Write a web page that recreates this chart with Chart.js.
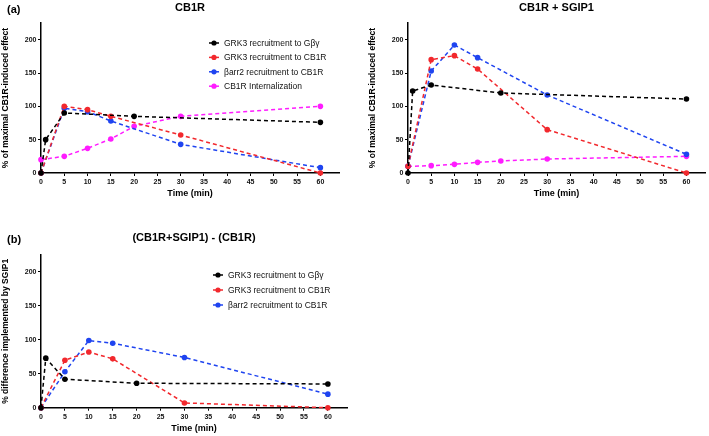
<!DOCTYPE html>
<html>
<head>
<meta charset="utf-8">
<script src="https://cdn.jsdelivr.net/npm/chart.js@4.4.1/dist/chart.umd.min.js"></script>
<style>
  body { margin:0; background:#fff; width:709px; height:436px; position:relative; overflow:hidden; }
  canvas { position:absolute; }
</style>
</head>
<body>
<canvas id="chartCB1R" width="355" height="205" style="left:0;top:0"></canvas>
<canvas id="chartSGIP1" width="354" height="205" style="left:355px;top:0"></canvas>
<canvas id="chartDiff" width="360" height="206" style="left:0;top:230px"></canvas>
<script>
// assi
const xTicks = [0, 5, 10, 15, 20, 25, 30, 35, 40, 45, 50, 55, 60];
const yTicks = [0, 50, 100, 150, 200];

// tempi (min) per ogni serie
const tGbg = [0, 1, 5, 20, 60];
const tRecl = [0, 5, 10, 15, 30, 60];
const tInt = [0, 5, 10, 15, 20, 30, 60];

// CB1R
const cb1rGbg = [0, 50, 90, 85, 76];
const cb1rGrk3 = [0, 100, 95, 85, 57, 0];
const cb1rArr2 = [0, 97, 92, 78, 43, 8];
const cb1rInt = [20, 25, 37, 51, 70, 85, 100];

// CB1R + SGIP1
const sgipGbg = [0, 123, 132, 120, 111];
const sgipGrk3 = [10, 170, 176, 156, 65, 0];
const sgipArr2 = [10, 153, 192, 173, 117, 28];
const sgipInt = [10, 11, 13, 16, 18, 21, 25];

// (CB1R+SGIP1) - (CB1R)
const diffGbg = [0, 73, 42, 36, 35];
const diffGrk3 = [0, 70, 82, 72, 7, 0];
const diffArr2 = [0, 53, 99, 95, 74, 20];

const etichette = ['GRK3 recruitment to G\u03B2\u03B3', 'GRK3 recruitment to CB1R', '\u03B2arr2 recruitment to CB1R', 'CB1R Internalization'];
const colori = ['#000000', '#f2282d', '#1f44f0', '#ff1cff'];
const FONT = "'Liberation Sans', Arial, sans-serif";

function serie(i, xs, ys) {
  return {
    label: etichette[i],
    data: xs.map((x, k) => ({ x: x, y: ys[k] })),
    borderColor: colori[i],
    backgroundColor: colori[i],
    borderWidth: 1.5,
    borderDash: [4, 3],
    pointRadius: 2.8,
    pointBorderWidth: 0,
    pointBackgroundColor: colori[i],
    tension: 0,
    clip: false
  };
}

// titolo pannello + lettera
const testoPannello = {
  id: 'testoPannello',
  afterDraw(chart, args, opts) {
    const ctx = chart.ctx, ca = chart.chartArea;
    ctx.save();
    ctx.fillStyle = '#000';
    ctx.textBaseline = 'middle';
    ctx.font = 'bold 11px ' + FONT;
    ctx.textAlign = 'center';
    ctx.fillText(opts.title, (ca.left + ca.right) / 2, opts.y);
    if (opts.letter) {
      ctx.textAlign = 'left';
      ctx.fillText(opts.letter, 7, opts.y + 1.5);
    }
    ctx.restore();
  }
};

// legenda dentro il grafico
const legendaInterna = {
  id: 'legendaInterna',
  afterDraw(chart, args, opts) {
    if (!opts.show) return;
    const ctx = chart.ctx;
    ctx.save();
    ctx.font = '8.5px ' + FONT;
    ctx.textBaseline = 'middle';
    ctx.textAlign = 'left';
    chart.data.datasets.forEach((ds, i) => {
      const y = opts.y + i * opts.step;
      ctx.strokeStyle = ds.borderColor;
      ctx.fillStyle = ds.borderColor;
      ctx.lineWidth = 1.5;
      ctx.beginPath();
      ctx.moveTo(opts.x - 5, y);
      ctx.lineTo(opts.x + 5, y);
      ctx.stroke();
      ctx.beginPath();
      ctx.arc(opts.x, y, 2.6, 0, Math.PI * 2);
      ctx.fill();
      ctx.fillStyle = '#111';
      ctx.fillText(ds.label, opts.x + 10, y + 0.5);
    });
    ctx.restore();
  }
};

function creaGrafico(id, c) {
  new Chart(document.getElementById(id), {
    type: 'line',
    data: { datasets: c.datasets },
    plugins: [testoPannello, legendaInterna],
    options: {
      responsive: false,
      animation: false,
      events: [],
      layout: { padding: { top: c.top, right: c.right, left: 0, bottom: 0 } },
      plugins: {
        legend: { display: false },
        title: { display: false },
        tooltip: { enabled: false },
        testoPannello: { title: c.title, letter: c.letter, y: 8 },
        legendaInterna: c.legend || { show: false }
      },
      scales: {
        x: {
          type: 'linear', min: 0, max: 64,
          afterBuildTicks: s => { s.ticks = xTicks.map(v => ({ value: v })); },
          afterFit: s => { s.height = c.xHeight; s.paddingLeft = 0; s.paddingRight = 0; },
          border: { display: true, color: '#000', width: 1.5 },
          grid: { display: true, drawOnChartArea: false, drawTicks: true, tickLength: 3, tickColor: '#000', tickWidth: 1 },
          ticks: { autoSkip: false, maxRotation: 0, padding: 2, color: '#111', font: { family: FONT, size: 7, weight: 'bold' } },
          title: { display: true, text: 'Time (min)', color: '#000', padding: { top: 0, bottom: c.xTitlePad }, font: { family: FONT, size: 9, weight: 'bold' } }
        },
        y: {
          min: 0, max: 225,
          afterBuildTicks: s => { s.ticks = yTicks.map(v => ({ value: v })); },
          afterFit: s => { s.width = c.yWidth; s.paddingTop = 0; s.paddingBottom = 0; },
          border: { display: true, color: '#000', width: 1.5 },
          grid: { display: true, drawOnChartArea: false, drawTicks: true, tickLength: 3, tickColor: '#000', tickWidth: 1 },
          ticks: { padding: 1.5, color: '#111', font: { family: FONT, size: 7, weight: 'bold' } },
          title: { display: true, text: c.yTitle, color: '#000', padding: { top: c.yTitlePad, bottom: 0 }, font: { family: FONT, size: 8.5, weight: 'bold' } }
        }
      }
    }
  });
}

creaGrafico('chartCB1R', {
  title: 'CB1R', letter: '(a)',
  datasets: [serie(0, tGbg, cb1rGbg), serie(1, tRecl, cb1rGrk3), serie(2, tRecl, cb1rArr2), serie(3, tInt, cb1rInt)],
  yTitle: '% of maximal CB1R-induced effect',
  top: 23, right: 16, yWidth: 41, yTitlePad: 1, xHeight: 32, xTitlePad: 6,
  legend: { show: true, x: 214, y: 43, step: 14.4 }
});

creaGrafico('chartSGIP1', {
  title: 'CB1R + SGIP1', letter: '',
  datasets: [serie(0, tGbg, sgipGbg), serie(1, tRecl, sgipGrk3), serie(2, tRecl, sgipArr2), serie(3, tInt, sgipInt)],
  yTitle: '% of maximal CB1R-induced effect',
  top: 23, right: 2, yWidth: 53, yTitlePad: 12.5, xHeight: 32, xTitlePad: 6
});

creaGrafico('chartDiff', {
  title: '(CB1R+SGIP1) - (CB1R)', letter: '(b)',
  datasets: [serie(0, tGbg, diffGbg), serie(1, tRecl, diffGrk3), serie(2, tRecl, diffArr2)],
  yTitle: '% difference implemented by SGIP1',
  top: 25, right: 13, yWidth: 41, yTitlePad: 1, xHeight: 28.3, xTitlePad: 1.6,
  legend: { show: true, x: 218, y: 45, step: 15 }
});
</script>
</body>
</html>
